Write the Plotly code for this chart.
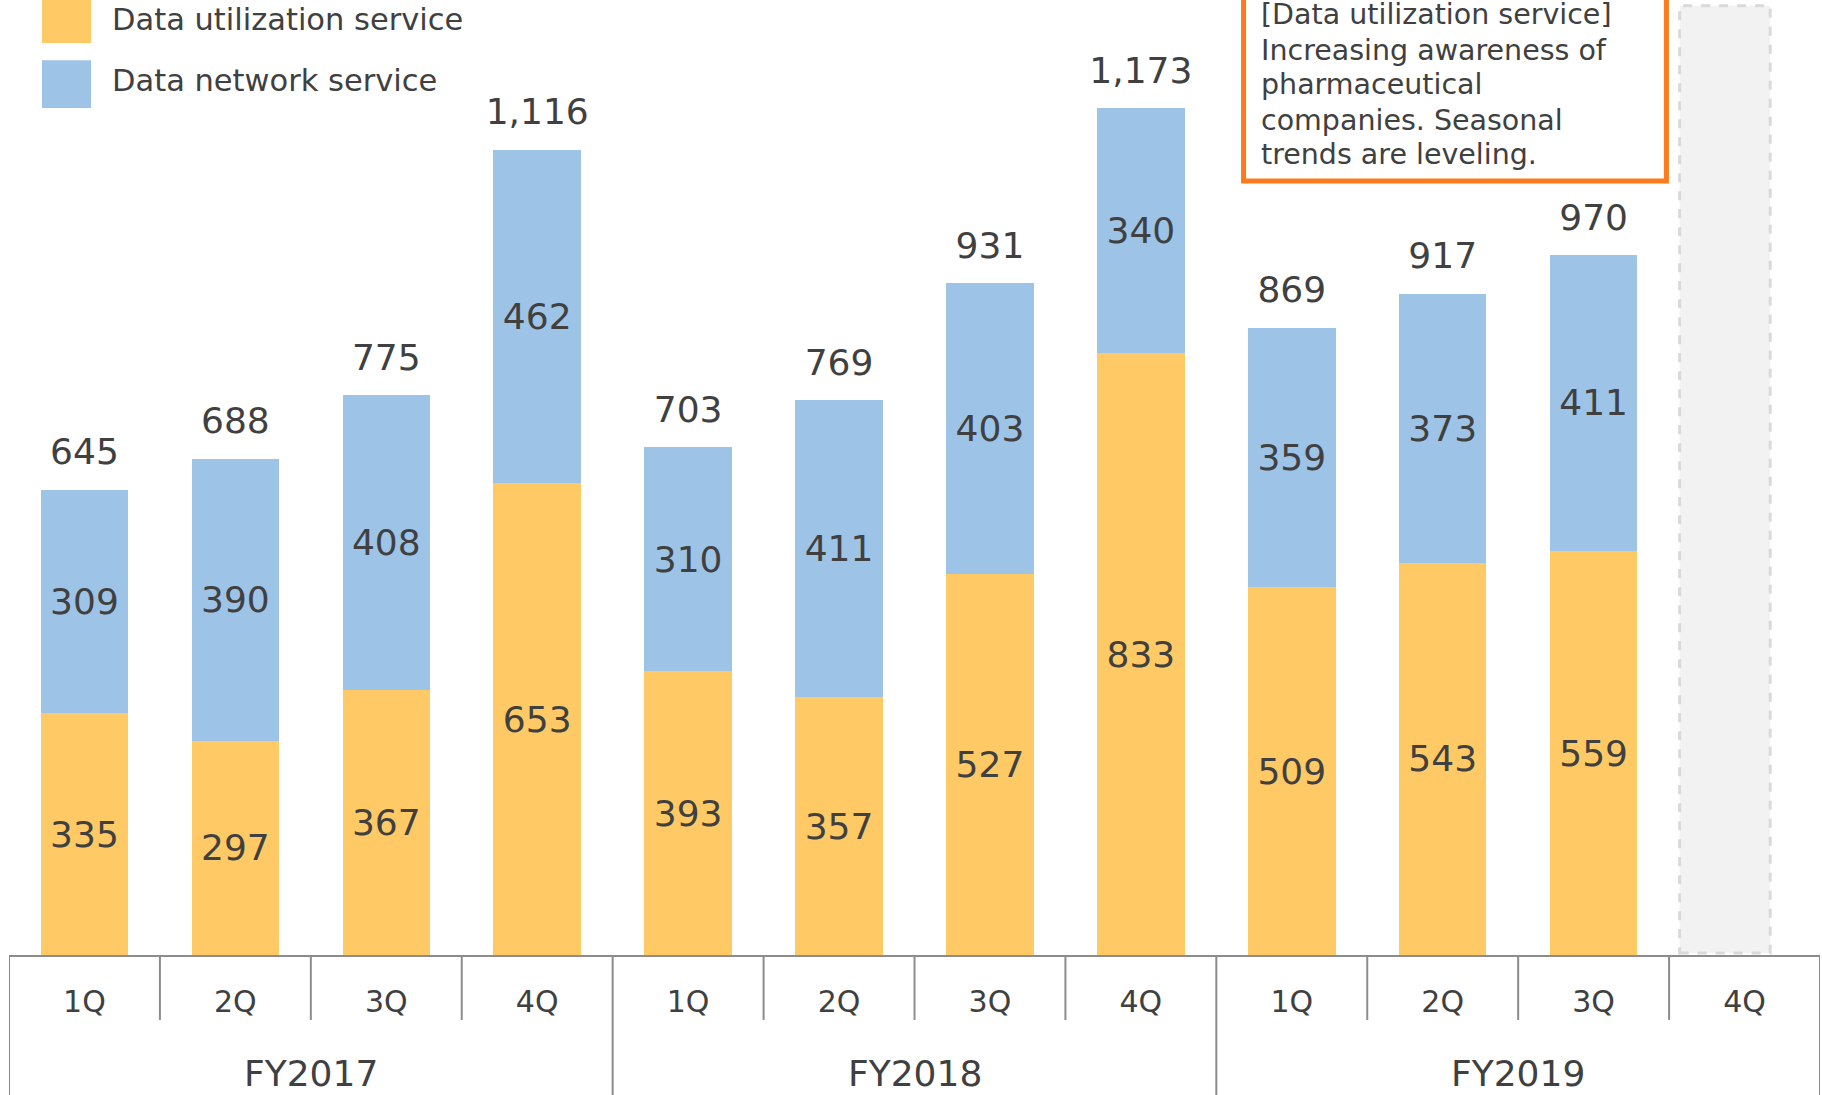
import plotly.graph_objects as go

# Quarterly sales by service (stacked), FY2017–FY2019
fiscal_years = ["FY2017"] * 4 + ["FY2018"] * 4 + ["FY2019"] * 4
quarters = ["1Q", "2Q", "3Q", "4Q"] * 3
utilization = [335, 297, 367, 653, 393, 357, 527, 833, 509, 543, 559, None]
network = [309, 390, 408, 462, 310, 411, 403, 340, 359, 373, 411, None]
totals = [645, 688, 775, 1116, 703, 769, 931, 1173, 869, 917, 970, None]

series_names = ["Data utilization service", "Data network service"]
series_colors = ["#FFCA65", "#9DC3E6"]

note_lines = [
    "[Data utilization service]",
    "Increasing awareness of",
    "pharmaceutical",
    "companies. Seasonal",
    "trends are leveling.",
]

FONT = "DejaVu Sans"
TEXT = "#404040"
AXIS = "#8C8C8C"

# Slot index for each quarter on a linear axis
pos = list(range(len(quarters)))
n_slots = len(pos)

fig = go.Figure()
for name, vals, color in zip(series_names, [utilization, network], series_colors):
    fig.add_trace(go.Bar(
        x=pos, y=vals, name=name,
        marker=dict(color=color, line=dict(width=0)),
        texttemplate="%{y}", textposition="inside", insidetextanchor="middle",
        textangle=0, constraintext="none",
        textfont=dict(family=FONT, size=36, color=TEXT),
        showlegend=False, hoverinfo="skip",
    ))

# Totals above each stack
fig.add_trace(go.Scatter(
    x=pos, y=totals, mode="markers+text",
    text=[f"{t:,}" if t is not None else "" for t in totals],
    textposition="top center",
    textfont=dict(family=FONT, size=36, color=TEXT),
    marker=dict(size=24, opacity=0),
    showlegend=False, hoverinfo="skip",
))

shapes = []
annotations = []

# Category table under the axis: short separators between quarters,
# full-height separators between fiscal years, year labels centred
boundaries = [p - 0.5 for p in pos] + [pos[-1] + 0.5]
year_edges = [-0.5] + [p - 0.5 for p in pos[1:] if fiscal_years[p] != fiscal_years[p - 1]] + [pos[-1] + 0.5]
for b in boundaries:
    full = b in year_edges
    shapes.append(dict(type="line", xref="x", yref="paper", x0=b, x1=b,
                       y0=0, y1=-0.1466 if full else -0.068,
                       line=dict(color=AXIS, width=2)))
for fy in dict.fromkeys(fiscal_years):
    idx = [p for p in pos if fiscal_years[p] == fy]
    annotations.append(dict(xref="x", yref="paper", x=sum(idx) / len(idx), y=-0.1246,
                            xanchor="center", yanchor="middle", showarrow=False,
                            text=fy, font=dict(family=FONT, size=36, color=TEXT)))

# Legend swatches and labels
legend_y = [(0.955, 1.005, 0.9801), (0.887, 0.937, 0.9162)]
for (y0, y1, yc), name, color in zip(legend_y, series_names, series_colors):
    shapes.append(dict(type="rect", xref="paper", yref="paper",
                       x0=0.0182, x1=0.0453, y0=y0, y1=y1,
                       fillcolor=color, line=dict(width=0)))
    annotations.append(dict(xref="paper", yref="paper", x=0.0558, y=yc,
                            xanchor="left", yanchor="middle", showarrow=False,
                            text=name, font=dict(family=FONT, size=30.5, color=TEXT)))

# Placeholder for the quarter not yet reported
slot = n_slots - 1
shapes.append(dict(type="rect", xref="paper", yref="paper",
                   x0=(slot + 0.07) / n_slots, x1=(slot + 0.67) / n_slots,
                   y0=0.002, y1=0.994, layer="below",
                   fillcolor="#F2F2F2", line=dict(color="#D9D9D9", width=3, dash="dash")))

# Commentary box
shapes.append(dict(type="rect", xref="paper", yref="paper",
                   x0=0.6817, x1=0.9152, y0=0.8105, y1=1.02,
                   fillcolor="white", line=dict(color="#FF7A1C", width=5)))
for line, yc in zip(note_lines, [0.9853, 0.9476, 0.9110, 0.8743, 0.8377]):
    annotations.append(dict(xref="paper", yref="paper", x=0.6905, y=yc,
                            xanchor="left", yanchor="middle", showarrow=False,
                            text=line, font=dict(family=FONT, size=28.5, color=TEXT)))

fig.update_layout(
    width=1822, height=1095,
    margin=dict(l=9, r=2, t=0, b=140),
    barmode="stack", bargap=0.42,
    plot_bgcolor="white", paper_bgcolor="white",
    font=dict(family=FONT, color=TEXT),
    shapes=shapes, annotations=annotations,
    xaxis=dict(
        range=[-0.5, n_slots - 0.5],
        tickmode="array", tickvals=pos, ticktext=quarters,
        ticks="", ticklabelstandoff=19,
        showline=True, linecolor=AXIS, linewidth=2,
        tickfont=dict(family=FONT, size=30, color=TEXT),
        showgrid=False, zeroline=False, automargin=False, fixedrange=True,
    ),
    yaxis=dict(visible=False, range=[0, 1322.5], showgrid=False, zeroline=False,
               fixedrange=True),
)

fig.write_html("out.html")
